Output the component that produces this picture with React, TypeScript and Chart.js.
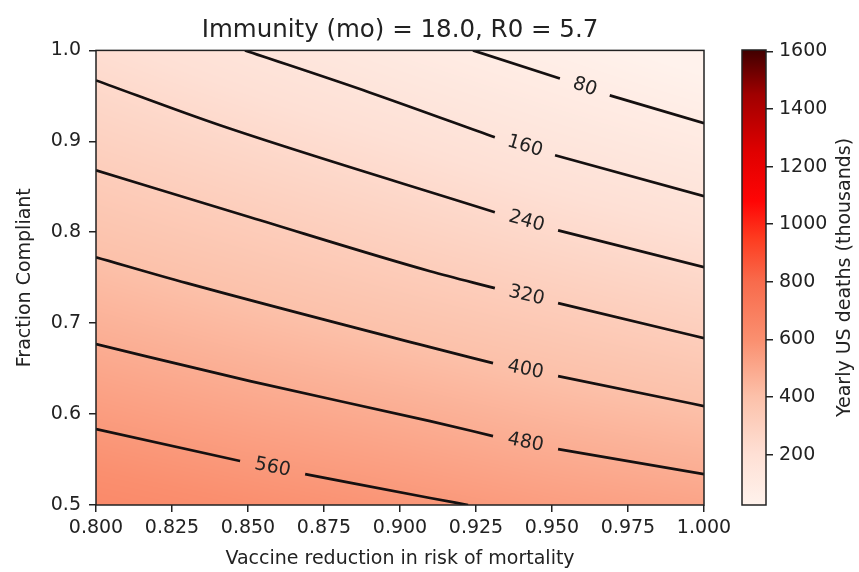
import React, { useEffect, useRef } from "react";
import { Chart, registerables } from "chart.js";
Chart.register(...registerables);

const FONT = "DejaVu Sans";
const TEXT = "#222222";

const TITLE = "Immunity (mo) = 18.0, R0 = 5.7";
const X_LABEL = "Vaccine reduction in risk of mortality";
const Y_LABEL = "Fraction Compliant";
const CBAR_LABEL = "Yearly US deaths (thousands)";

// heat-map field (thousands of deaths)
const gridX = [0.8, 0.85, 0.9, 0.95, 1.0];
const gridY = [1.0, 0.9, 0.8, 0.7, 0.6, 0.5];
const gridValues = [
  [213, 160, 106, 54, 0],
  [294, 247, 199, 147, 100],
  [377, 334, 290, 244, 201],
  [461, 422, 383, 344, 303],
  [546, 512, 480, 443, 409],
  [631, 602, 573, 542, 516],
];

// colour map
const cmapValues = [25, 200, 400, 600, 800, 950, 1080, 1250, 1450, 1605];
const cmapColors = ["#fff2ec", "#fee0d5", "#fcc1aa", "#fa8f6f", "#f86b4c", "#fd3c20", "#ff0505", "#e00000", "#a00000", "#400000"];
const colorbarMin = 25;
const colorbarMax = 1605;
const colorbarTicks = [200, 400, 600, 800, 1000, 1200, 1400, 1600];

// x / y ticks
const xTicks = [0.8, 0.825, 0.85, 0.875, 0.9, 0.925, 0.95, 0.975, 1.0];
const yTicks = [0.5, 0.6, 0.7, 0.8, 0.9, 1.0];

// contour lines: [segment before label, segment after label]
const contourLevels = [80, 160, 240, 320, 400, 480, 560];
const contour80 = [
  [[0.924, 1.0], [0.9526, 0.969]],
  [[0.969, 0.9505], [1.0, 0.92]],
];
const contour160 = [
  [[0.849, 1.0], [0.89, 0.9538], [0.9312, 0.9044]],
  [[0.951, 0.8846], [1.0, 0.8396]],
];
const contour240 = [
  [[0.8, 0.967], [0.8408, 0.9176], [0.9312, 0.822]],
  [[0.952, 0.802], [1.0, 0.7615]],
];
const contour320 = [
  [[0.8, 0.868], [0.8507, 0.8165], [0.9099, 0.7571], [0.9312, 0.7385]],
  [[0.952, 0.722], [1.0, 0.6835]],
];
const contour400 = [
  [[0.8, 0.7725], [0.8299, 0.744], [0.9099, 0.6736], [0.9306, 0.656]],
  [[0.952, 0.6418], [1.0, 0.6088]],
];
const contour480 = [
  [[0.8, 0.6769], [0.8507, 0.6362], [0.9099, 0.5923], [0.9306, 0.5758]],
  [[0.952, 0.5615], [1.0, 0.534]],
];
const contour560 = [
  [[0.8, 0.5835], [0.8474, 0.5484]],
  [[0.8688, 0.534], [0.9099, 0.5077], [0.9224, 0.5]],
];
const contours = [contour80, contour160, contour240, contour320, contour400, contour480, contour560];

function hexToRgb(h: string) {
  const n = parseInt(h.slice(1), 16);
  return [(n >> 16) & 255, (n >> 8) & 255, n & 255];
}
const cmapRgb = cmapColors.map(hexToRgb);

function colorFor(v: number) {
  if (v <= cmapValues[0]) return cmapRgb[0];
  const last = cmapValues.length - 1;
  if (v >= cmapValues[last]) return cmapRgb[last];
  let i = 0;
  while (i < last - 1 && v > cmapValues[i + 1]) i++;
  const t = (v - cmapValues[i]) / (cmapValues[i + 1] - cmapValues[i]);
  const a = cmapRgb[i], b = cmapRgb[i + 1];
  return [a[0] + (b[0] - a[0]) * t, a[1] + (b[1] - a[1]) * t, a[2] + (b[2] - a[2]) * t];
}

function locate(arr: number[], v: number) {
  const n = arr.length;
  if (v <= arr[0]) return { i: 0, t: 0 };
  if (v >= arr[n - 1]) return { i: n - 2, t: 1 };
  let i = 0;
  while (i < n - 2 && v > arr[i + 1]) i++;
  return { i, t: (v - arr[i]) / (arr[i + 1] - arr[i]) };
}

const gridYAsc = [...gridY].reverse();
const gridValuesAsc = [...gridValues].reverse();

function fieldAt(x: number, y: number) {
  const lx = locate(gridX, x);
  const ly = locate(gridYAsc, y);
  const v00 = gridValuesAsc[ly.i][lx.i];
  const v01 = gridValuesAsc[ly.i][lx.i + 1];
  const v10 = gridValuesAsc[ly.i + 1][lx.i];
  const v11 = gridValuesAsc[ly.i + 1][lx.i + 1];
  const a = v00 + (v01 - v00) * lx.t;
  const b = v10 + (v11 - v10) * lx.t;
  return a + (b - a) * ly.t;
}

const heatmapPlugin = {
  id: "heatmap",
  beforeDatasetsDraw(chart: any) {
    const { ctx, chartArea } = chart;
    const xs = chart.scales.x, ys = chart.scales.y;
    const w = Math.round(chartArea.right - chartArea.left);
    const h = Math.round(chartArea.bottom - chartArea.top);
    const img = ctx.createImageData(w, h);
    for (let py = 0; py < h; py++) {
      const yv = ys.getValueForPixel(chartArea.top + py + 0.5);
      for (let px = 0; px < w; px++) {
        const xv = xs.getValueForPixel(chartArea.left + px + 0.5);
        const c = colorFor(fieldAt(xv, yv));
        const k = (py * w + px) * 4;
        img.data[k] = c[0];
        img.data[k + 1] = c[1];
        img.data[k + 2] = c[2];
        img.data[k + 3] = 255;
      }
    }
    ctx.putImageData(img, Math.round(chartArea.left), Math.round(chartArea.top));
  },
};

const framePlugin = {
  id: "frame",
  afterDatasetsDraw(chart: any) {
    const { ctx, chartArea } = chart;
    ctx.save();
    ctx.strokeStyle = "#222";
    ctx.lineWidth = 1.5;
    ctx.strokeRect(chartArea.left, chartArea.top, chartArea.right - chartArea.left, chartArea.bottom - chartArea.top);
    ctx.restore();
  },
};

const labelPlugin = {
  id: "contourLabels",
  afterDatasetsDraw(chart: any) {
    const { ctx } = chart;
    ctx.save();
    ctx.font = `19px "${FONT}"`;
    ctx.fillStyle = TEXT;
    ctx.textAlign = "center";
    ctx.textBaseline = "middle";
    contourLevels.forEach((lvl, i) => {
      const a = chart.getDatasetMeta(i * 2).data;
      const b = chart.getDatasetMeta(i * 2 + 1).data;
      const p = a[a.length - 1], q = b[0];
      const mx = (p.x + q.x) / 2, my = (p.y + q.y) / 2;
      const ang = Math.atan2(q.y - p.y, q.x - p.x);
      ctx.save();
      ctx.translate(mx, my);
      ctx.rotate(ang);
      ctx.fillText(String(lvl), 0, 0);
      ctx.restore();
    });
    ctx.restore();
  },
};

const colorbarPlugin = {
  id: "colorbar",
  beforeDatasetsDraw(chart: any) {
    const { ctx, chartArea } = chart;
    const ys = chart.scales.y;
    const y0 = ys.getPixelForValue(colorbarMin);
    const y1 = ys.getPixelForValue(colorbarMax);
    const g = ctx.createLinearGradient(0, y0, 0, y1);
    cmapValues.forEach((v, i) => {
      const t = Math.min(1, Math.max(0, (v - colorbarMin) / (colorbarMax - colorbarMin)));
      g.addColorStop(t, cmapColors[i]);
    });
    ctx.save();
    ctx.fillStyle = g;
    ctx.fillRect(chartArea.left, y1, chartArea.right - chartArea.left, y0 - y1);
    ctx.strokeStyle = "#222";
    ctx.lineWidth = 1.5;
    ctx.strokeRect(chartArea.left, y1, chartArea.right - chartArea.left, y0 - y1);
    ctx.restore();
  },
  afterDraw(chart: any) {
    const { ctx, chartArea } = chart;
    ctx.save();
    ctx.font = `19px "${FONT}"`;
    ctx.fillStyle = TEXT;
    ctx.textAlign = "center";
    ctx.textBaseline = "middle";
    ctx.translate(125, (chartArea.top + chartArea.bottom) / 2);
    ctx.rotate(-Math.PI / 2);
    ctx.fillText(CBAR_LABEL, 0, 0);
    ctx.restore();
  },
};

export default function App() {
  const mainRef = useRef<HTMLCanvasElement>(null);
  const barRef = useRef<HTMLCanvasElement>(null);

  useEffect(() => {
    const font = { family: FONT, size: 19 };
    const datasets: any[] = [];
    contours.forEach((segs) => {
      segs.forEach((seg) => {
        datasets.push({
          type: "line",
          data: seg.map((p) => ({ x: p[0], y: p[1] })),
          borderColor: "#151010",
          borderWidth: 2.7,
          pointRadius: 0,
          fill: false,
          cubicInterpolationMode: "monotone",
        });
      });
    });

    const main = new Chart(mainRef.current!, {
      type: "scatter",
      data: { datasets },
      options: {
        animation: false,
        responsive: false,
        events: [],
        layout: { padding: { left: 0, right: 36, top: 0, bottom: 0 } },
        plugins: {
          legend: { display: false },
          tooltip: { enabled: false },
          title: {
            display: true,
            text: TITLE,
            fullSize: false,
            color: TEXT,
            font: { family: FONT, size: 24.5, weight: "normal" },
            padding: { top: 16, bottom: 5 },
          },
        },
        scales: {
          x: {
            type: "linear",
            min: 0.8,
            max: 1.0,
            afterBuildTicks: (s: any) => {
              s.ticks = xTicks.map((v) => ({ value: v }));
            },
            ticks: {
              callback: (v: any) => Number(v).toFixed(3),
              font,
              color: TEXT,
              padding: 5,
              maxRotation: 0,
              autoSkip: false,
            },
            grid: { drawOnChartArea: false, drawTicks: true, tickLength: 7, color: "#222", lineWidth: 1.5 },
            border: { display: false },
            title: { display: true, text: X_LABEL, font, color: TEXT, padding: { top: 0, bottom: 2 } },
            afterFit: (s: any) => {
              s.height = 67;
            },
          },
          y: {
            type: "linear",
            min: 0.5,
            max: 1.0,
            afterBuildTicks: (s: any) => {
              s.ticks = yTicks.map((v) => ({ value: v }));
            },
            ticks: {
              callback: (v: any) => Number(v).toFixed(1),
              font,
              color: TEXT,
              padding: 8,
              autoSkip: false,
            },
            grid: { drawOnChartArea: false, drawTicks: true, tickLength: 7, color: "#222", lineWidth: 1.5 },
            border: { display: false },
            title: { display: true, text: Y_LABEL, font, color: TEXT, padding: { top: 14, bottom: 0 } },
            afterFit: (s: any) => {
              s.width = 96;
            },
          },
        },
      } as any,
      plugins: [heatmapPlugin, framePlugin, labelPlugin],
    });

    const bar = new Chart(barRef.current!, {
      type: "scatter",
      data: { datasets: [] },
      options: {
        animation: false,
        responsive: false,
        events: [],
        layout: { padding: { left: 22, right: 0, top: 50, bottom: 67 } },
        plugins: { legend: { display: false }, tooltip: { enabled: false }, title: { display: false } },
        scales: {
          x: { display: false, min: 0, max: 1 },
          y: {
            position: "right",
            min: colorbarMin,
            max: colorbarMax,
            afterBuildTicks: (s: any) => {
              s.ticks = colorbarTicks.map((v) => ({ value: v }));
            },
            ticks: { font, color: TEXT, padding: 6, autoSkip: false, callback: (v: any) => String(v) },
            grid: { drawOnChartArea: false, drawTicks: true, tickLength: 7, color: "#222", lineWidth: 1.5 },
            border: { display: false },
            afterFit: (s: any) => {
              s.width = 93;
            },
          },
        },
      } as any,
      plugins: [colorbarPlugin],
    });

    return () => {
      main.destroy();
      bar.destroy();
    };
  }, []);

  return (
    <div style={{ position: "fixed", left: 0, top: 0, width: 859, height: 572, background: "#fff" }}>
      <canvas ref={mainRef} width={740} height={572} style={{ position: "absolute", left: 0, top: 0 }} />
      <canvas ref={barRef} width={139} height={572} style={{ position: "absolute", left: 720, top: 0 }} />
    </div>
  );
}
